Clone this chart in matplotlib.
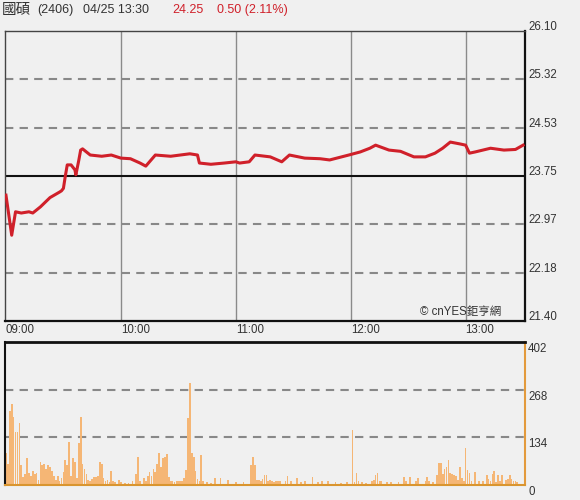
import numpy as np
import matplotlib.pyplot as plt
from matplotlib import transforms

# intraday price, minutes after 09:00
price_min = [0, 3, 5, 8, 12, 14, 18, 23, 28, 29, 30, 31, 32, 34, 36, 36.5, 38, 39, 40,
             44, 50, 55, 60, 65, 70, 73, 78, 86, 96, 100, 101, 107, 114, 120, 122,
             127, 130, 138, 144, 148, 156, 164, 169, 179, 185, 190, 193, 200, 206,
             213, 219, 224, 228, 232, 237, 240, 242, 245, 253, 260, 266, 270]
price_val = [23.44, 22.79, 23.17, 23.15, 23.17, 23.15, 23.25, 23.40, 23.49, 23.51,
             23.55, 23.75, 23.93, 23.93, 23.85, 23.77, 24.00, 24.17, 24.19, 24.09, 24.07,
             24.09, 24.04, 24.03, 23.96, 23.91, 24.09, 24.07, 24.11, 24.09, 23.96,
             23.94, 23.96, 23.98, 23.96, 23.98, 24.09, 24.06, 23.98, 24.09, 24.04,
             24.03, 24.01, 24.09, 24.14, 24.20, 24.25, 24.17, 24.15, 24.06, 24.06,
             24.12, 24.20, 24.30, 24.27, 24.25, 24.12, 24.14, 24.20, 24.17, 24.18, 24.25]

# volume per minute (minute, lots)
volume = [
    (0, 90), (1, 60), (2, 209), (3, 229), (4, 190), (5, 148), (6, 150), (7, 173),
    (8, 56), (9, 22), (10, 30), (11, 75), (12, 35), (13, 25), (14, 40), (15, 30),
    (16, 35), (17, 15), (18, 65), (19, 55), (20, 60), (21, 45), (22, 55), (23, 50),
    (24, 40), (25, 25), (26, 15), (27, 25), (28, 10), (29, 20), (30, 36), (31, 70),
    (32, 55), (33, 120), (34, 25), (35, 75), (36, 64), (37, 20), (38, 117), (39, 190),
    (40, 60), (41, 45), (42, 30), (43, 15), (44, 10), (45, 18), (46, 22), (47, 22),
    (48, 25), (49, 64), (50, 58), (51, 20), (52, 10), (53, 15), (54, 8), (55, 40),
    (56, 10), (57, 8), (59, 14), (60, 8), (62, 6), (64, 6), (66, 12), (68, 30),
    (69, 80), (70, 12), (72, 20), (73, 12), (74, 25), (75, 36), (76, 25), (77, 45),
    (78, 36), (79, 60), (80, 90), (81, 50), (82, 75), (83, 78), (84, 86), (85, 22),
    (86, 12), (87, 10), (88, 8), (89, 10), (90, 12), (91, 10), (92, 10), (93, 20),
    (94, 42), (95, 187), (96, 287), (97, 89), (98, 80), (99, 40), (100, 18), (101, 10),
    (102, 84), (103, 10), (105, 8), (107, 6), (109, 20), (112, 20), (116, 14),
    (120, 8), (124, 8), (128, 56), (129, 78), (130, 55), (131, 15), (132, 14),
    (133, 12), (134, 18), (135, 28), (136, 28), (137, 12), (138, 14), (139, 10),
    (140, 8), (141, 12), (142, 10), (143, 10), (146, 12), (147, 25), (149, 12),
    (152, 20), (154, 8), (156, 10), (160, 22), (163, 8), (165, 12), (168, 10),
    (172, 8), (175, 6), (178, 8), (181, 156), (182, 8), (183, 34), (184, 12),
    (186, 8), (188, 6), (191, 12), (192, 14), (193, 28), (194, 34), (195, 12),
    (196, 10), (199, 8), (201, 8), (205, 8), (208, 22), (209, 10), (211, 22),
    (214, 10), (215, 20), (219, 12), (220, 22), (221, 10), (223, 8), (225, 28),
    (226, 62), (227, 62), (228, 30), (229, 45), (230, 50), (231, 70), (232, 35),
    (233, 30), (234, 28), (235, 25), (236, 15), (237, 50), (238, 20), (239, 12),
    (240, 103), (241, 42), (242, 34), (243, 12), (245, 36), (247, 10), (249, 12),
    (251, 28), (252, 18), (253, 12), (254, 30), (255, 39), (256, 8), (257, 28),
    (258, 12), (259, 28), (261, 14), (262, 16), (263, 28), (264, 18), (265, 10),
    (266, 12), (267, 8),
]
vol_min = [m for m, v in volume]
vol_val = [v for m, v in volume]

price_ticks = [26.10, 25.32, 24.53, 23.75, 22.97, 22.18, 21.40]
vol_ticks = [402, 268, 134, 0]
time_ticks = [0, 60, 120, 180, 240]
time_labels = ['09:00', '10:00', '11:00', '12:00', '13:00']
prev_close = 23.75

plt.rcParams['font.family'] = ['Liberation Sans', 'Noto Sans CJK TC', 'DejaVu Sans']
bg = '#f0f0f0'
txt = '#333333'
red = '#d0202a'
fs = 8.3

fig = plt.figure(figsize=(5.8, 5.0), dpi=100, facecolor=bg)
ax = fig.add_axes([5 / 580, 1 - 321 / 500, 520 / 580, 290 / 500], facecolor=bg)
axv = fig.add_axes([5 / 580, 1 - 485 / 500, 520 / 580, 143 / 500], facecolor=bg)

xlim = (-0.5, 271)

# price panel
ax.set_xlim(*xlim)
ax.set_ylim(21.40, 26.10)
for t in time_ticks[1:]:
    ax.axvline(t, color='#8a8a8a', lw=1, zorder=1)
for p in price_ticks[1:-1]:
    if p == prev_close:
        ax.axhline(p, color='#111111', lw=1.5, zorder=2)
    else:
        ax.axhline(p, color='#888888', lw=1.5, ls=(0, (4, 3)), zorder=2)
ax.plot(price_min, price_val, color=red, lw=2.2, zorder=3)
for s in ax.spines.values():
    s.set_color('#444444')
    s.set_linewidth(1)
ax.spines['right'].set_color('#111111')
ax.spines['right'].set_linewidth(1.6)
ax.spines['bottom'].set_color('#111111')
ax.spines['bottom'].set_linewidth(1.6)

ax.set_yticks([])
lab_tr = transforms.blended_transform_factory(ax.transAxes, ax.transData)
for p in price_ticks:
    off = transforms.ScaledTranslation(0, 4 / 100, fig.dpi_scale_trans)
    ax.text(1.006, p, f'{p:.2f}', transform=lab_tr + off, ha='left', va='center',
            fontsize=fs, color=txt)
ax.set_xticks(time_ticks, time_labels)
ax.tick_params(axis='x', length=0, pad=2, labelsize=fs, labelcolor=txt)
for lab in ax.get_xticklabels():
    lab.set_ha('left')
ax.text(0.955, 0.012, '© cnYES鉅亨網', transform=ax.transAxes, ha='right', va='bottom',
        fontsize=8.3, color=txt, zorder=4)

# volume panel
axv.set_xlim(*xlim)
axv.set_ylim(0, 402)
for v in vol_ticks[1:-1]:
    axv.axhline(v, color='#888888', lw=1.5, ls=(0, (4, 3)), zorder=1)
axv.bar(vol_min, vol_val, width=0.9, color='#f5b675', edgecolor='none', zorder=2)
axv.set_xticks([])
axv.set_yticks([])
for s in axv.spines.values():
    s.set_color('#111111')
    s.set_linewidth(1.5)
axv.spines['right'].set_color('#e39a3c')
axv.spines['bottom'].set_color('#d9952f')
axv.spines['top'].set_linewidth(2)
vlab_tr = transforms.blended_transform_factory(axv.transAxes, axv.transData)
for v in vol_ticks:
    off = transforms.ScaledTranslation(0, -1 / 100, fig.dpi_scale_trans)
    axv.text(1.006, v, str(v), transform=vlab_tr + off, ha='left', va='top',
             fontsize=fs, color=txt)

# header
hy = 1 - 10 / 500
fig.text(2 / 580, hy, '國碩', ha='left', va='center', fontsize=10.5, color=txt,
         family=['Noto Sans CJK TC'])
fig.text(37 / 580, hy, '(2406)', ha='left', va='center', fontsize=9, color=txt)
fig.text(83 / 580, hy, '04/25 13:30', ha='left', va='center', fontsize=9, color=txt)
fig.text(172 / 580, hy, '24.25', ha='left', va='center', fontsize=9, color=red)
fig.text(217 / 580, hy, '0.50 (2.11%)', ha='left', va='center', fontsize=9, color=red)

fig.savefig('out.png', dpi=100, facecolor=bg)
